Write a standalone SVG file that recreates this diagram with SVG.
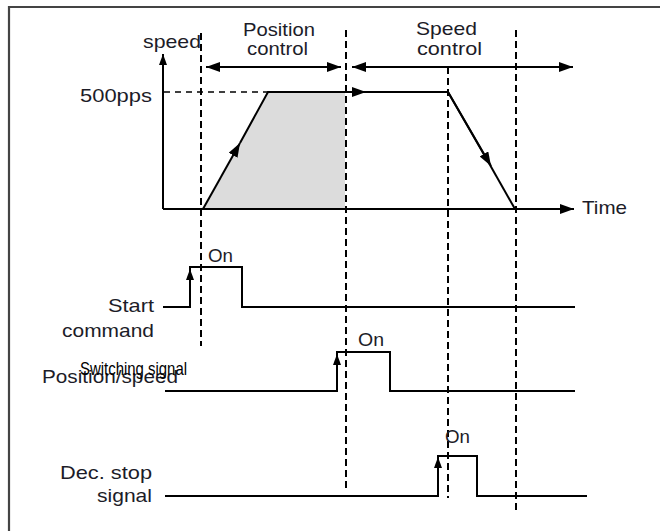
<svg xmlns="http://www.w3.org/2000/svg" width="660" height="531" viewBox="0 0 660 531">
<style>
.ln{stroke:#000;stroke-width:2;fill:none}
.dash{stroke:#000;stroke-width:2;fill:none;stroke-dasharray:7 4}
.hd{stroke:#000;stroke-width:1.6;fill:none;stroke-dasharray:6 5}
.t{font-family:"Liberation Sans",Arial,sans-serif;font-size:19px;fill:#1c1c28}
.sw{font-family:"Liberation Sans",Arial,sans-serif;font-size:18.5px;fill:#000}
</style>
<defs>
<marker id="ah" markerUnits="userSpaceOnUse" markerWidth="14" markerHeight="10" refX="14" refY="5" orient="auto" viewBox="0 0 14 10"><path d="M0,0 L14,5 L0,10 z" fill="#000"/></marker>
<marker id="as" markerUnits="userSpaceOnUse" markerWidth="11" markerHeight="8" refX="11" refY="4" orient="auto" viewBox="0 0 11 8"><path d="M0,0 L11,4 L0,8 z" fill="#000"/></marker>
<marker id="ahs" markerUnits="userSpaceOnUse" markerWidth="14" markerHeight="10" refX="0" refY="5" orient="auto" viewBox="0 0 14 10"><path d="M14,0 L0,5 L14,10 z" fill="#000"/></marker>
</defs>
<rect width="660" height="531" fill="#fff"/>
<g id="frame"><path d="M9,531 V7 H660" stroke="#444" stroke-width="2.2" fill="none"/></g>
<g id="fill"><polygon points="203,209 268,92 345,92 345,209" fill="#dcdcdc"/></g>
<g id="connectors">
<line class="ln" x1="163" y1="209" x2="163" y2="54" marker-end="url(#as)"/>
<line class="ln" x1="163" y1="209" x2="574" y2="209" marker-end="url(#ah)"/>
<line class="hd" x1="164" y1="92" x2="268" y2="92"/>
<line class="dash" x1="201" y1="33" x2="201" y2="346"/>
<line class="dash" x1="346" y1="30" x2="346" y2="488"/>
<line class="dash" x1="448" y1="67" x2="448" y2="498"/>
<line class="dash" x1="516" y1="30" x2="516" y2="511"/>
<line class="ln" x1="206" y1="67" x2="341" y2="67" marker-start="url(#ahs)" marker-end="url(#ah)"/>
<line class="ln" x1="352" y1="67" x2="573" y2="67" marker-start="url(#ahs)" marker-end="url(#ah)"/>
<line class="ln" x1="203" y1="209" x2="240" y2="143" marker-end="url(#ah)"/>
<polyline class="ln" points="240,143 268,92 365,92"/>
<line class="ln" x1="268" y1="92" x2="366" y2="92" marker-end="url(#ah)"/>
<polyline class="ln" points="365,92 448,92 490,165"/>
<line class="ln" x1="448" y1="92" x2="491" y2="166" marker-end="url(#ah)"/>
<line class="ln" x1="490" y1="165" x2="515" y2="209"/>
<polyline class="ln" points="163,307 190,307 190,267 242,267 242,307 575,307"/>
<line class="ln" x1="190" y1="290" x2="190" y2="269" marker-end="url(#as)"/>
<polyline class="ln" points="165,391 337,391 337,352 390,352 390,391 575,391"/>
<line class="ln" x1="337" y1="375" x2="337" y2="354" marker-end="url(#as)"/>
<polyline class="ln" points="165,496 438,496 438,456 477,456 477,496 587,496"/>
<line class="ln" x1="438" y1="478" x2="438" y2="457" marker-end="url(#as)"/>
</g>
<g id="labels">
<text class="t" x="143" y="48" textLength="58" lengthAdjust="spacingAndGlyphs">speed</text>
<text class="t" x="80" y="102" textLength="72" lengthAdjust="spacingAndGlyphs">500pps</text>
<text class="t" x="243" y="36" textLength="72" lengthAdjust="spacingAndGlyphs">Position</text>
<text class="t" x="247" y="55" textLength="61" lengthAdjust="spacingAndGlyphs">control</text>
<text class="t" x="416" y="35" textLength="61" lengthAdjust="spacingAndGlyphs">Speed</text>
<text class="t" x="417" y="55" textLength="65" lengthAdjust="spacingAndGlyphs">control</text>
<text class="t" x="582" y="214" textLength="45" lengthAdjust="spacingAndGlyphs">Time</text>
<text class="t" x="208" y="262" textLength="25" lengthAdjust="spacingAndGlyphs">On</text>
<text class="t" x="108" y="312" textLength="46" lengthAdjust="spacingAndGlyphs">Start</text>
<text class="t" x="62" y="337" textLength="92" lengthAdjust="spacingAndGlyphs">command</text>
<text class="t" x="42" y="383" textLength="136" lengthAdjust="spacingAndGlyphs">Position/speed</text>
<text class="sw" x="80" y="375" textLength="107" lengthAdjust="spacingAndGlyphs">Switching signal</text>
<text class="t" x="358" y="346" textLength="26" lengthAdjust="spacingAndGlyphs">On</text>
<text class="t" x="60" y="479" textLength="92" lengthAdjust="spacingAndGlyphs">Dec. stop</text>
<text class="t" x="97" y="502" textLength="55" lengthAdjust="spacingAndGlyphs">signal</text>
<text class="t" x="445" y="443" textLength="25" lengthAdjust="spacingAndGlyphs">On</text>
</g>
</svg>
